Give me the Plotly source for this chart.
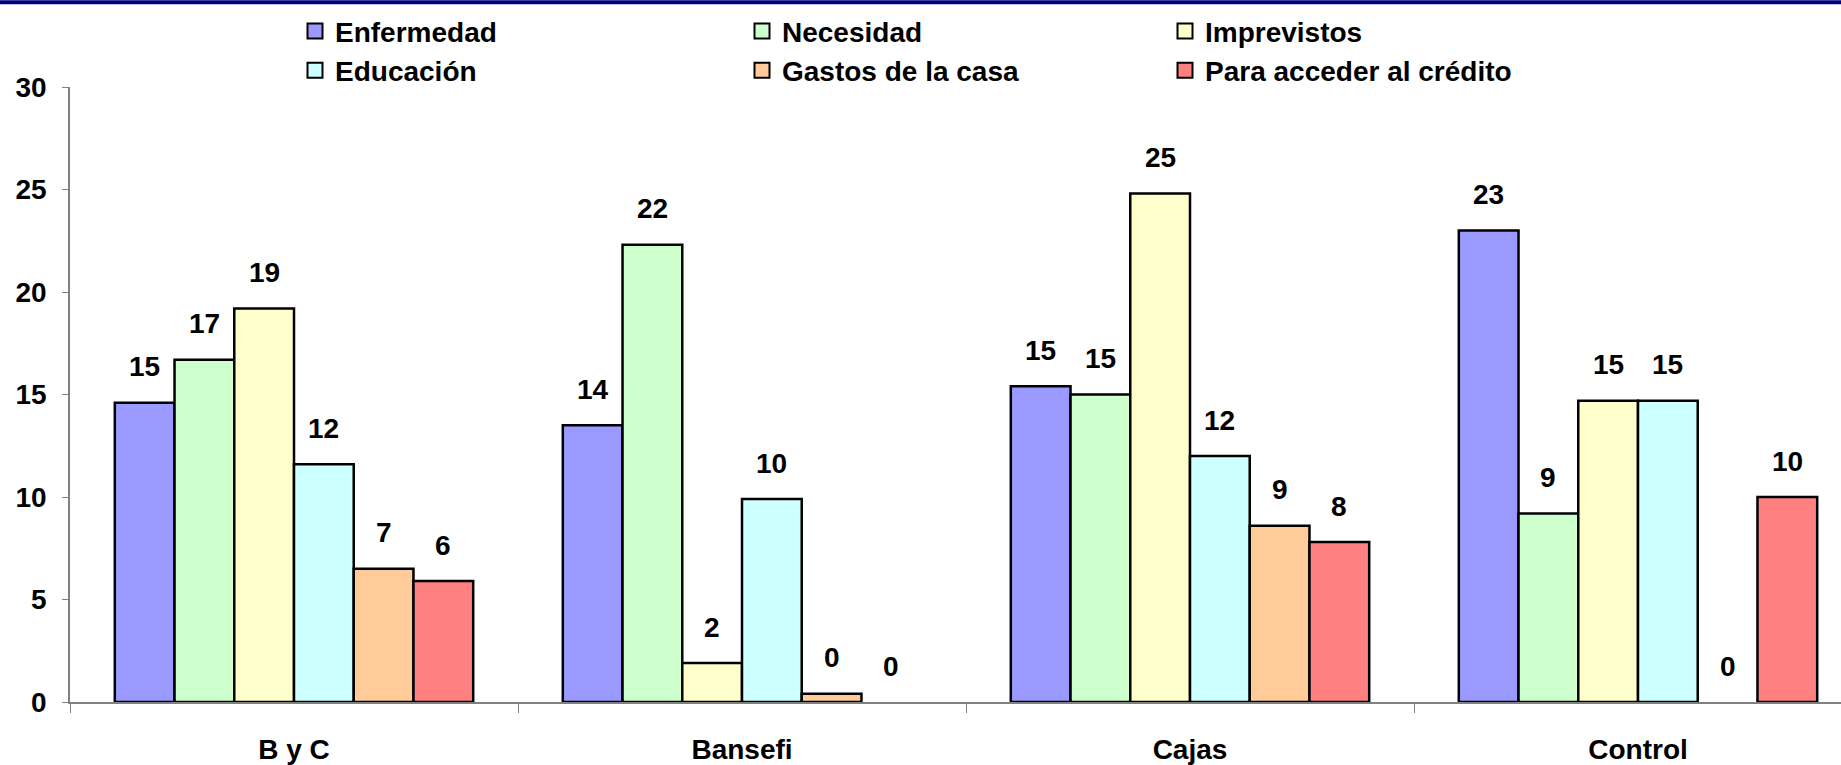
import plotly.graph_objects as go

# ---------------- data ----------------
categories = ["B y C", "Bansefi", "Cajas", "Control"]
series_names = ["Enfermedad", "Necesidad", "Imprevistos", "Educación",
                "Gastos de la casa", "Para acceder al crédito"]

enfermedad = [14.6, 13.5, 15.4, 23.0]
necesidad = [16.7, 22.3, 15.0, 9.2]
imprevistos = [19.2, 1.9, 24.8, 14.7]
educacion = [11.6, 9.9, 12.0, 14.7]
gastos_casa = [6.5, 0.4, 8.6, 0.0]
acceder_credito = [5.9, 0.0, 7.8, 10.0]

labels_enfermedad = ["15", "14", "15", "23"]
labels_necesidad = ["17", "22", "15", "9"]
labels_imprevistos = ["19", "2", "25", "15"]
labels_educacion = ["12", "10", "12", "15"]
labels_gastos = ["7", "0", "9", "0"]
labels_acceder = ["6", "0", "8", "10"]

y_ticks = [0, 5, 10, 15, 20, 25, 30]

# ---------------- style ----------------
colors = ["#9999FF", "#CCFFCC", "#FFFFCC", "#CCFFFF", "#FFCC99", "#FF8080"]
values = [enfermedad, necesidad, imprevistos, educacion, gastos_casa, acceder_credito]
labels = [labels_enfermedad, labels_necesidad, labels_imprevistos,
          labels_educacion, labels_gastos, labels_acceder]
legend_ids = ["legend", "legend2", "legend3", "legend", "legend2", "legend3"]
legend_left_px = [295, 742, 1165]

W, H = 1841, 765
ML, MR, MT, MB = 70, 0, 87, 61
PW, PH = W - ML - MR, H - MT - MB
CAT_PX = 448.0
BARGAP = 0.2
FONT = "Liberation Sans, Arial, Helvetica, sans-serif"

fig = go.Figure()
n = len(values)
for name, vals, col, lg in zip(series_names, values, colors, legend_ids):
    fig.add_trace(go.Bar(
        x=categories, y=vals, name=name, showlegend=False,
        marker=dict(color=col,
                    line=dict(color="black",
                              width=[2.5 if v > 0 else 0 for v in vals])),
    ))
# legend entries (square swatches with black border)
for name, col, lg in zip(series_names, colors, legend_ids):
    fig.add_trace(go.Scatter(
        x=[None], y=[None], mode="markers", name=name, legend=lg,
        marker=dict(symbol="square", size=15, color=col,
                    line=dict(color="black", width=2)),
        hoverinfo="skip",
    ))

# data labels above each bar
bw = (1 - BARGAP) / n
annotations = []
for i, (vals, labs) in enumerate(zip(values, labels)):
    for j, (v, t) in enumerate(zip(vals, labs)):
        annotations.append(dict(
            x=j + (i - (n - 1) / 2) * bw, y=v, xref="x", yref="y",
            text=t, showarrow=False, yanchor="middle", yshift=36,
            font=dict(family=FONT, size=28, color="black", weight="bold"),
        ))

shapes = [dict(
    type="rect", xref="paper", yref="paper",
    x0=-ML / PW, x1=1 + MR / PW,
    y0=1 + (MT - 4) / PH, y1=1 + MT / PH,
    fillcolor="#000080", line=dict(width=0), layer="above",
)]

legend_font = dict(family=FONT, size=28, color="black", weight="bold")
legends = {}
for k, lid in enumerate(["legend", "legend2", "legend3"]):
    legends[lid] = dict(
        orientation="v", x=(legend_left_px[k] - ML) / PW, xanchor="left",
        y=1 + (MT - 6) / PH, yanchor="top",
        font=legend_font, bgcolor="rgba(0,0,0,0)", traceorder="normal",
        itemwidth=30,
    )

fig.update_layout(
    width=W, height=H,
    margin=dict(l=ML, r=MR, t=MT, b=MB, pad=0),
    paper_bgcolor="white", plot_bgcolor="white",
    barmode="group", bargap=BARGAP, bargroupgap=0,
    font=dict(family=FONT, size=28, color="black", weight="bold"),
    showlegend=True,
    xaxis=dict(
        type="category", range=[-0.5, -0.5 + PW / CAT_PX],
        showline=True, linecolor="#808080", linewidth=2,
        ticks="outside", tickson="boundaries", ticklen=9, tickcolor="#808080",
        showgrid=False, zeroline=False,
        ticklabelstandoff=21,
        tickfont=dict(family=FONT, size=28, color="black", weight="bold"),
    ),
    yaxis=dict(
        range=[0, 30], tickvals=y_ticks,
        showline=True, linecolor="#808080", linewidth=1.5,
        ticks="outside", ticklen=6, tickcolor="#808080",
        showgrid=False, zeroline=False,
        ticklabelstandoff=10,
        tickfont=dict(family=FONT, size=28, color="black", weight="bold"),
    ),
    annotations=annotations,
    shapes=shapes,
    **legends,
)

fig.write_html("out.html")
